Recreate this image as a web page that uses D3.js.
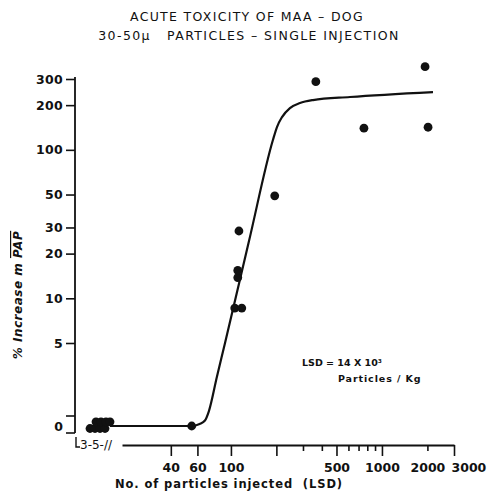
<!DOCTYPE html>
<html>
<head>
<meta charset="utf-8">
<script src="https://cdn.jsdelivr.net/npm/d3@7"></script>
<style>
  body { margin: 0; background: #fff; }
  svg text { font-family: "DejaVu Sans", sans-serif; fill: #111; }
</style>
</head>
<body>
<svg id="chart" width="487" height="498"></svg>
<script>
// observed points: particles (LSD) vs % increase in mean PAP
var doseLow = [3.0, 3.5, 4.0, 4.5, 3.6, 4.1, 4.6, 5.0];
var respLow = [-0.15, -0.15, -0.15, -0.15, 0.25, 0.25, 0.25, 0.25];
var dose = [55, 106, 118, 111, 111, 113, 195, 365, 760, 1930, 2020];
var resp = [0, 8.6, 8.6, 13.8, 15.4, 28.4, 49, 288, 140, 363, 142];

// hand-drawn fit curve
var fitDose = [5, 55, 62, 67.3, 71.5, 80.7, 91.4, 131.6, 189.7, 201.8, 217.9, 245.9, 286.6, 349.4, 614, 2178];
var fitResp = [0, 0, 0.12, 0.33, 0.9, 2.95, 5, 24.2, 116.4, 142.4, 166.2, 191.2, 206.5, 216.4, 227, 245];

var yTicks = [300, 200, 100, 50, 30, 20, 10, 5];
var xTicks = [40, 60, 100, 200, 300, 400, 500, 600, 700, 800, 900, 1000, 2000, 3000];
var xLabeled = [40, 60, 100, 500, 1000, 2000, 3000];
var xLong = [40, 60, 100, 200, 500, 1000, 3000];

var svg = d3.select("#chart");

var xLog = d3.scaleLog().domain([19, 3000]).range([122, 454]);
var xBreak = d3.scaleLinear().domain([3, 5]).range([90, 110]);
var yLog = d3.scaleLog().domain([5, 300]).range([343, 79]);
var yLow = d3.scaleLinear().domain([0, 5]).range([426, 343]);

function xPos(v) { return v <= 5 ? xBreak(v) : xLog(v); }
function yPos(v) { return v >= 5 ? yLog(v) : yLow(v); }

// title
svg.append("text")
    .attr("x", 247).attr("y", 21)
    .attr("text-anchor", "middle")
    .style("font-size", "12.5px")
    .style("letter-spacing", "1.3px")
    .text("ACUTE TOXICITY OF MAA \u2013 DOG");
svg.append("text")
    .attr("x", 249).attr("y", 40)
    .attr("text-anchor", "middle")
    .style("font-size", "12.5px")
    .style("letter-spacing", "1.4px")
    .attr("xml:space", "preserve")
    .text("30-50\u03bc   PARTICLES \u2013 SINGLE INJECTION");

// y axis
svg.append("line")
    .attr("x1", 75).attr("x2", 75)
    .attr("y1", 77).attr("y2", 433)
    .attr("stroke", "#111").attr("stroke-width", 1.8);

var yAxis = svg.append("g")
    .attr("transform", "translate(75,0)")
    .call(d3.axisLeft(yLog).tickValues(yTicks).tickFormat(d3.format("d")).tickSize(9).tickSizeOuter(0));
yAxis.select(".domain").remove();
yAxis.selectAll("line").attr("stroke", "#111").attr("stroke-width", 1.6);
yAxis.selectAll("text")
    .attr("x", -12)
    .style("font-size", "12.5px")
    .style("font-weight", "bold")
    .style("letter-spacing", "0.3px")
    .style("font-family", "DejaVu Sans")
    .attr("fill", "#111");

// zero bracket
svg.selectAll(".zeroTick")
    .data([416, 433])
    .enter()
  .append("line")
    .attr("class", "zeroTick")
    .attr("x1", 66).attr("x2", 75)
    .attr("y1", function (d) { return d; })
    .attr("y2", function (d) { return d; })
    .attr("stroke", "#111").attr("stroke-width", 1.6);
svg.append("text")
    .attr("x", 63).attr("y", yLow(0) + 4.5)
    .attr("text-anchor", "end")
    .style("font-size", "12.5px")
    .style("font-weight", "bold")
    .text("0");

// x axis
var xAxis = svg.append("g")
    .attr("transform", "translate(0,445)")
    .call(d3.axisBottom(xLog).tickValues(xTicks)
        .tickFormat(function (d) { return xLabeled.indexOf(d) >= 0 ? d : ""; })
        .tickSize(6).tickSizeOuter(0));
xAxis.select(".domain").attr("stroke", "#111").attr("stroke-width", 1.8);
xAxis.selectAll(".tick line")
    .attr("stroke", "#111").attr("stroke-width", 1.6)
    .attr("y2", function (d) { return xLong.indexOf(d) >= 0 ? 11 : 6; });
xAxis.selectAll(".tick text")
    .attr("y", 18)
    .style("font-size", "12.5px")
    .style("font-weight", "bold")
    .style("font-family", "DejaVu Sans")
    .attr("fill", "#111")
    .filter(function (d) { return d === 3000; })
    .attr("text-anchor", "start")
    .attr("x", -3);

// broken axis segment 3-5
svg.append("path")
    .attr("d", "M76,437 V447 H80")
    .attr("fill", "none").attr("stroke", "#111").attr("stroke-width", 1.4);
svg.append("text")
    .attr("x", 80).attr("y", 449)
    .style("font-size", "12px")
    .text("3-5-//");

// axis titles
svg.append("text")
    .attr("x", 229).attr("y", 488)
    .attr("text-anchor", "middle")
    .style("font-size", "11.5px")
    .style("font-weight", "bold")
    .style("letter-spacing", "0.9px")
    .attr("xml:space", "preserve")
    .text("No. of particles injected  (LSD)");

var yTitle = svg.append("text")
    .attr("transform", "translate(22,295) rotate(-90)")
    .attr("text-anchor", "middle")
    .style("font-size", "12px")
    .style("font-weight", "bold")
    .style("font-style", "italic")
    .style("letter-spacing", "0.5px");
yTitle.append("tspan").text("% Increase m ");
yTitle.append("tspan").style("text-decoration", "overline").text("PAP");

// annotation
svg.append("text")
    .attr("x", 302).attr("y", 366)
    .style("font-size", "9.5px")
    .style("font-weight", "bold")
    .text("LSD = 14 X 10\u00b3");
svg.append("text")
    .attr("x", 338).attr("y", 382)
    .style("font-size", "9.5px")
    .style("font-weight", "bold")
    .style("letter-spacing", "0.9px")
    .text("Particles / Kg");

// fit curve
var fit = fitDose.map(function (d, i) { return [d, fitResp[i]]; });
var line = d3.line()
    .x(function (d) { return xPos(d[0]); })
    .y(function (d) { return yPos(d[1]); })
    .curve(d3.curveMonotoneX);
svg.append("path")
    .datum(fit)
    .attr("d", line)
    .attr("fill", "none")
    .attr("stroke", "#111")
    .attr("stroke-width", 2.2);

// points
var pts = doseLow.map(function (d, i) { return [d, respLow[i]]; })
    .concat(dose.map(function (d, i) { return [d, resp[i]]; }));
svg.selectAll(".dot")
    .data(pts)
    .enter()
  .append("circle")
    .attr("class", "dot")
    .attr("cx", function (d) { return xPos(d[0]); })
    .attr("cy", function (d) { return yPos(d[1]); })
    .attr("r", 4.4)
    .attr("fill", "#111");
</script>
</body>
</html>
